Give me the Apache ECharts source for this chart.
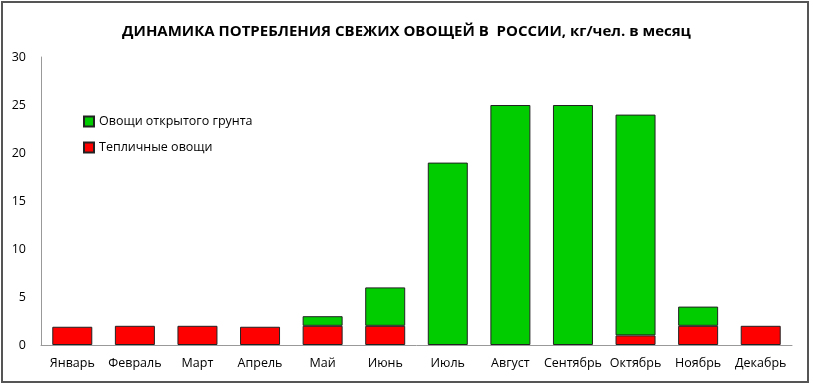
<!DOCTYPE html>
<html><head><meta charset="utf-8">
<script src="https://cdn.jsdelivr.net/npm/echarts@6/dist/echarts.min.js"></script>
<style>html,body{margin:0;padding:0;background:#fff}#c{width:813px;height:386px}</style>
</head><body><div id="c"></div>
<script>
const categories = ['Январь','Февраль','Март','Апрель','Май','Июнь','Июль','Август','Сентябрь','Октябрь','Ноябрь','Декабрь'];
const greenhouse = [1.9, 2, 2, 1.9, 2, 2, 0, 0, 0, 1, 2, 2];
const openGround = [0, 0, 0, 0, 1, 4, 19, 25, 25, 23, 2, 0];
const yTicks = [0, 5, 10, 15, 20, 25, 30];

const hideZero = arr => arr.map(v => v === 0 ? '-' : v);
const chart = echarts.init(document.getElementById('c'), null, {renderer:'canvas'});
const font = 'Open Sans, sans-serif';
chart.setOption({
  animation:false,
  backgroundColor:'#fff',
  title:{text:'ДИНАМИКА ПОТРЕБЛЕНИЯ СВЕЖИХ ОВОЩЕЙ В  РОССИИ, кг/чел. в месяц',left:'center',top:19,
    textStyle:{fontFamily:font,fontSize:15,fontWeight:'bold',color:'#000'}},
  graphic:[{type:'rect',shape:{x:2,y:2,width:806,height:380},style:{fill:'none',stroke:'#555',lineWidth:2},silent:true}],
  legend:{left:78,top:110,orient:'vertical',itemGap:13,itemWidth:10,itemHeight:10,icon:'rect',
    data:['Овощи открытого грунта','Тепличные овощи'],
    textStyle:{fontFamily:font,fontSize:12.5,color:'#000'}},
  grid:{left:41,right:21,top:57,bottom:41},
  xAxis:{type:'category',data:categories,axisTick:{show:false},
    axisLine:{lineStyle:{color:'#999',width:1}},
    axisLabel:{fontFamily:font,fontSize:12.5,color:'#000',margin:12,interval:0}},
  yAxis:{type:'value',min:yTicks[0],max:yTicks[yTicks.length-1],interval:5,splitLine:{show:false},
    axisLine:{show:true,lineStyle:{color:'#999'}},axisTick:{show:false},
    axisLabel:{fontFamily:font,fontSize:12.5,color:'#000',margin:15}},
  series:[
    {name:'Тепличные овощи',type:'bar',stack:'a',data:hideZero(greenhouse),barWidth:40,
      itemStyle:{color:'#ff0000',borderColor:'#222',borderWidth:1}},
    {name:'Овощи открытого грунта',type:'bar',stack:'a',data:hideZero(openGround),barWidth:40,
      itemStyle:{color:'#00cc00',borderColor:'#222',borderWidth:1}}
  ]
});
</script></body></html>
